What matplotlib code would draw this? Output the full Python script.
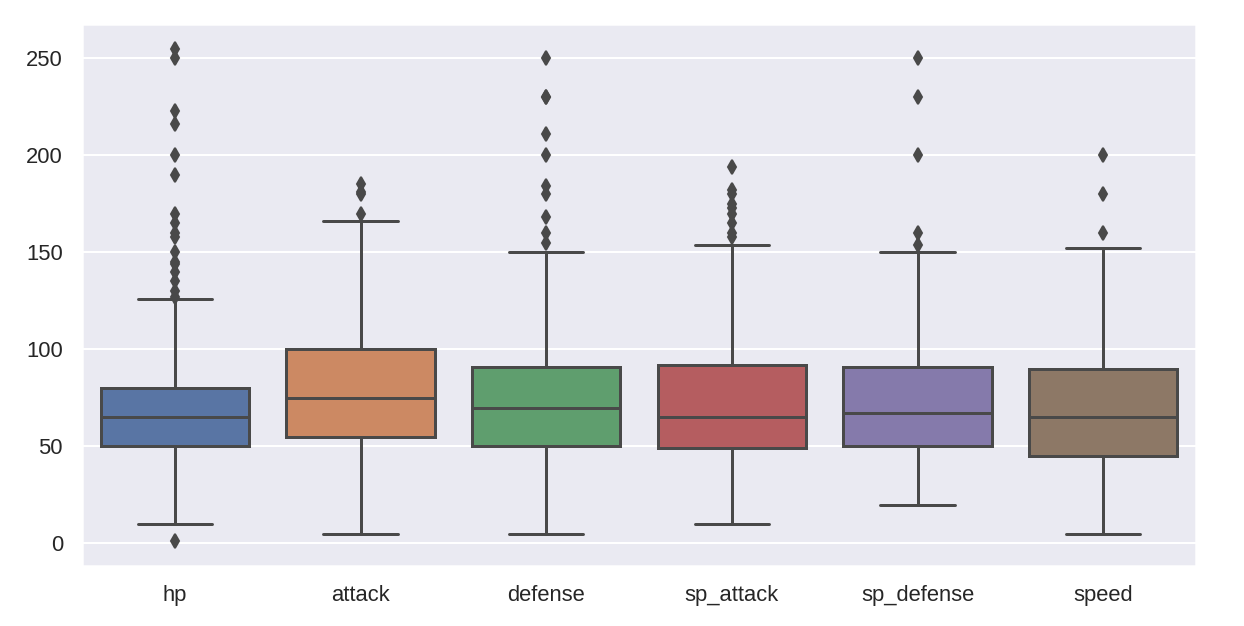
import colorsys
import matplotlib
matplotlib.use("Agg")
import matplotlib.pyplot as plt
import seaborn as sns

categories = ["hp", "attack", "defense", "sp_attack", "sp_defense", "speed"]
q1 = [50, 55, 50, 49, 50, 45]
median = [65, 75, 70, 65, 67, 65]
q3 = [80, 100, 91, 92, 91, 90]
whisker_low = [10, 5, 5, 10, 20, 5]
whisker_high = [126, 166, 150, 154, 150, 152]
fliers = [
    [255, 250, 223, 216, 200, 190, 170, 165, 160, 158, 150, 145, 144, 140, 135, 130, 127, 1],
    [170, 180, 181, 185],
    [250, 230, 230, 211, 200, 184, 180, 168, 160, 155],
    [194, 182, 180, 175, 173, 170, 165, 160, 158],
    [250, 230, 200, 160, 154],
    [200, 180, 160],
]
y_ticks = [0, 50, 100, 150, 200, 250]

sns.set_theme(style="darkgrid", context="notebook")
plt.rcParams["font.family"] = ["Liberation Sans", "DejaVu Sans"]

colors = sns.color_palette("deep", len(categories), desat=0.75)
lum = min(colorsys.rgb_to_hls(*c)[1] for c in colors) * 0.6
gray = (lum, lum, lum)

fig = plt.figure(figsize=(1244 / 144, 626 / 144), dpi=144)
ax = fig.add_axes([82 / 1244, 60 / 626, (1196 - 82) / 1244, (602 - 60) / 626])

stats = []
for i, name in enumerate(categories):
    stats.append(dict(label=name, med=median[i], q1=q1[i], q3=q3[i],
                      whislo=whisker_low[i], whishi=whisker_high[i],
                      fliers=fliers[i]))

lw = 1.5
bp = ax.bxp(stats, positions=range(len(categories)), widths=0.8,
            patch_artist=True, showfliers=True,
            boxprops=dict(edgecolor=gray, linewidth=lw),
            medianprops=dict(color=gray, linewidth=lw),
            whiskerprops=dict(color=gray, linewidth=lw),
            capprops=dict(color=gray, linewidth=lw),
            flierprops=dict(marker="d", markerfacecolor=gray,
                            markeredgecolor=gray, markersize=5, linestyle="none"))
for patch, c in zip(bp["boxes"], colors):
    patch.set_facecolor(c)

ax.set_xlim(-0.5, len(categories) - 0.5)
ax.set_yticks(y_ticks)
ax.xaxis.grid(False)
ax.set_xticks(range(len(categories)))
ax.set_xticklabels(categories)

fig.savefig("out.png", dpi=144)
